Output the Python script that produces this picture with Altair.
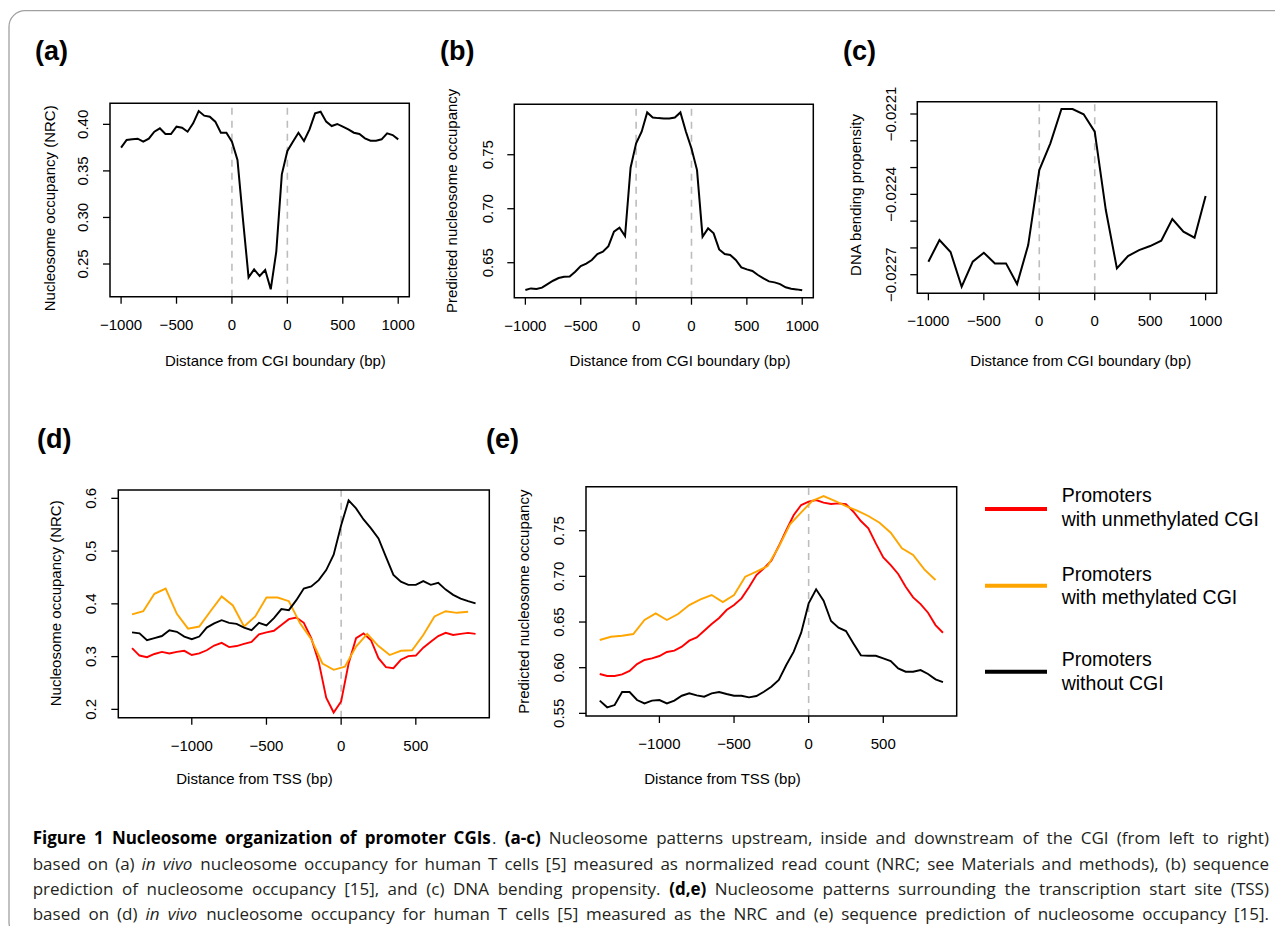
import altair as alt
import pandas as pd

W, H = 1267, 918
FONT = "Liberation Sans"
CAP_FONT = "Open Sans"

# ---------------- data ----------------
# Panels (a)-(c): plotting units: -1000..0 upstream, 0..500 CGI interior (scaled), 500..1500 downstream (0..1000 bp)
x_a = list(range(-1000, 1501, 50))
nrc_a = [0.3750, 0.3832, 0.3839, 0.3846, 0.3814, 0.3846, 0.3921, 0.3957, 0.3896, 0.3896,
         0.3975, 0.3964, 0.3921, 0.4011, 0.4143, 0.4093, 0.4082, 0.4029, 0.3910, 0.3910, 0.3814,
         0.3617, 0.2973, 0.2357, 0.2443, 0.2371, 0.2436, 0.2228, 0.2632, 0.3463, 0.3714,
         0.3814, 0.3910, 0.3821, 0.3946, 0.4118, 0.4136, 0.4029, 0.3982, 0.4004, 0.3975,
         0.3946, 0.3910, 0.3896, 0.3850, 0.3825, 0.3825, 0.3839, 0.3903, 0.3885, 0.3839]
x_b = list(range(-1000, 1501, 50))
pred_b = [0.6247, 0.6262, 0.6256, 0.6269, 0.6302, 0.6333, 0.6358, 0.6370, 0.6373, 0.6417,
          0.6469, 0.6491, 0.6525, 0.6580, 0.6602, 0.6654, 0.6787, 0.6824, 0.6747, 0.7380, 0.7605,
          0.7713, 0.7892, 0.7845, 0.7839, 0.7836, 0.7836, 0.7845, 0.7892, 0.7713, 0.7558,
          0.7358, 0.6741, 0.6818, 0.6772, 0.6623, 0.6580, 0.6571, 0.6525, 0.6457, 0.6438,
          0.6423, 0.6386, 0.6355, 0.6327, 0.6318, 0.6302, 0.6272, 0.6259, 0.6253, 0.6244]
x_c = list(range(-1000, 1501, 100))
bend_c = [-0.0226515, -0.0225706, -0.0226154, -0.0227449, -0.0226515, -0.0226179, -0.0226577,
          -0.0226577, -0.0227349, -0.0225892, -0.0223091,
          -0.0222095, -0.0220813, -0.0220813, -0.0221012, -0.0221660,
          -0.0224585, -0.0226764, -0.0226303, -0.0226079, -0.0225930, -0.0225731, -0.0224921,
          -0.0225394, -0.0225618, -0.0224062]
cgi_edges = [0, 500]
xticks_abc = [-1000, -500, 0, 500, 1000, 1500]
xlabels_abc = ["−1000", "−500", "0", "0", "500", "1000"]

# Panels (d),(e): distance from TSS (bp)
x_tss_50 = list(range(-1400, 901, 50))
x_tss_75 = list(range(-1400, 851, 75))
d_unmeth = [0.316, 0.302, 0.299, 0.305, 0.309, 0.306, 0.309, 0.311, 0.303, 0.306,
            0.312, 0.321, 0.326, 0.318, 0.320, 0.324, 0.328, 0.342, 0.346, 0.349,
            0.360, 0.371, 0.374, 0.364, 0.335, 0.290, 0.222, 0.194,
            0.215, 0.287, 0.335, 0.344, 0.331, 0.297, 0.280, 0.278, 0.294, 0.301,
            0.302, 0.317, 0.328, 0.339, 0.345, 0.341, 0.343, 0.345, 0.343]
d_meth = [0.380, 0.386, 0.419, 0.429, 0.381, 0.353, 0.357, 0.386, 0.414, 0.397,
          0.357, 0.376, 0.412, 0.412, 0.405, 0.363, 0.333, 0.287, 0.275, 0.281,
          0.319, 0.343, 0.320, 0.303, 0.311, 0.312, 0.341, 0.376, 0.386, 0.383, 0.385]
d_nocgi = [0.346, 0.344, 0.331, 0.335, 0.339, 0.350, 0.347, 0.338, 0.333, 0.338,
           0.355, 0.363, 0.369, 0.364, 0.362, 0.355, 0.350, 0.364, 0.359, 0.373,
           0.390, 0.388, 0.407, 0.429, 0.433, 0.445, 0.464, 0.493,
           0.549, 0.596, 0.581, 0.560, 0.543, 0.524, 0.489, 0.455, 0.442, 0.436,
           0.436, 0.443, 0.436, 0.440, 0.427, 0.417, 0.410, 0.405, 0.401]
e_unmeth = [0.5931, 0.5909, 0.5909, 0.5927, 0.5964, 0.6040, 0.6084, 0.6102, 0.6128, 0.6172,
            0.6186, 0.6230, 0.6296, 0.6332, 0.6405, 0.6478, 0.6544, 0.6631, 0.6686, 0.6759,
            0.6880, 0.7015, 0.7088, 0.7172, 0.7332, 0.7507, 0.7672, 0.7781,
            0.7818, 0.7836, 0.7807, 0.7792, 0.7799, 0.7792, 0.7708, 0.7606, 0.7526, 0.7361,
            0.7208, 0.7124, 0.7026, 0.6887, 0.6770, 0.6697, 0.6602, 0.6467, 0.6383]
e_meth = [0.6303, 0.6339, 0.6350, 0.6369, 0.6522, 0.6595, 0.6522, 0.6588, 0.6686, 0.6748,
          0.6796, 0.6719, 0.6796, 0.6996, 0.7051, 0.7113, 0.7325, 0.7569, 0.7701, 0.7828,
          0.7880, 0.7828, 0.7770, 0.7719, 0.7661, 0.7588, 0.7478, 0.7307, 0.7234, 0.7077, 0.6960]
e_nocgi = [0.5639, 0.5566, 0.5591, 0.5734, 0.5734, 0.5646, 0.5609, 0.5639, 0.5646, 0.5609,
           0.5639, 0.5693, 0.5719, 0.5697, 0.5682, 0.5719, 0.5734, 0.5712, 0.5693, 0.5693,
           0.5675, 0.5690, 0.5737, 0.5792, 0.5865, 0.6029, 0.6175, 0.6383,
           0.6704, 0.6858, 0.6734, 0.6511, 0.6438, 0.6401, 0.6266, 0.6135, 0.6131, 0.6131,
           0.6102, 0.6073, 0.5993, 0.5956, 0.5956, 0.5974, 0.5931, 0.5872, 0.5843]
tss_line = [0]
xticks_de = [-1000, -500, 0, 500]
xlabels_de = ["−1000", "−500", "0", "500"]

series_names = ["Promoters with unmethylated CGI", "Promoters with methylated CGI", "Promoters without CGI"]
series_colors = ["#ff0000", "#ffa500", "#000000"]
legend_lines = [["Promoters", "with unmethylated CGI"], ["Promoters", "with methylated CGI"],
                ["Promoters", "without CGI"]]

yticks_a = [0.25, 0.30, 0.35, 0.40]
ylabels_a = ["0.25", "0.30", "0.35", "0.40"]
yticks_b = [0.65, 0.70, 0.75]
ylabels_b = ["0.65", "0.70", "0.75"]
yticks_c = [-0.0227, -0.0226, -0.0225, -0.0224, -0.0223, -0.0222, -0.0221]
ylabels_c = ["−0.0227", "", "", "−0.0224", "", "", "−0.0221"]
yticks_d = [0.2, 0.3, 0.4, 0.5, 0.6]
ylabels_d = ["0.2", "0.3", "0.4", "0.5", "0.6"]
yticks_e = [0.55, 0.60, 0.65, 0.70, 0.75]
ylabels_e = ["0.55", "0.60", "0.65", "0.70", "0.75"]

xtitle_abc = "Distance from CGI boundary (bp)"
xtitle_de = "Distance from TSS (bp)"
panel_tags = ["(a)", "(b)", "(c)", "(d)", "(e)"]

caption_lines = [
    [("b", "Figure 1 Nucleosome organization of promoter CGIs"), ("r", ". "), ("b", "(a-c)"),
     ("r", " Nucleosome patterns upstream, inside and downstream of the CGI (from left to right)")],
    [("r", "based on (a) "), ("i", "in vivo"),
     ("r", " nucleosome occupancy for human T cells [5] measured as normalized read count (NRC; see Materials and methods), (b) sequence")],
    [("r", "prediction of nucleosome occupancy [15], and (c) DNA bending propensity. "), ("b", "(d,e)"),
     ("r", " Nucleosome patterns surrounding the transcription start site (TSS)")],
    [("r", "based on (d) "), ("i", "in vivo"),
     ("r", " nucleosome occupancy for human T cells [5] measured as the NRC and (e) sequence prediction of nucleosome occupancy [15].")],
]

# ---------------- helpers ----------------
color_scale = alt.Scale(domain=series_names, range=series_colors)
TICK = 7


def text_chart(txt, **mark):
    return alt.Chart(pd.DataFrame({"txt": [txt]})).mark_text(font=FONT, color="black", **mark)


def panel(df, xdom, ydom, frame, xticks, xlabels, yticks, ylabels, xtitle, xtitle_pos,
          ytitle, ytitle_pos, vlines, stroke_w, colored, xlab_gap=33, ylab_gap=21.7):
    left, right, top, bottom = frame
    xs = alt.Scale(domain=xdom, range=[left, right], nice=False, zero=False)
    ys = alt.Scale(domain=ydom, range=[bottom, top], nice=False, zero=False)
    layers = []
    vdf = pd.DataFrame({"vx": vlines, "y0": [ydom[0]] * len(vlines), "y1": [ydom[1]] * len(vlines)})
    layers.append(alt.Chart(vdf).mark_rule(color="#bdbdbd", strokeWidth=1.6, strokeDash=[7, 6]).encode(
        x=alt.X("vx:Q", scale=xs, axis=None),
        y=alt.Y("y0:Q", scale=ys, axis=None), y2="y1:Q"))
    if colored:
        layers.append(alt.Chart(df).mark_line(strokeWidth=stroke_w).encode(
            x=alt.X("x:Q", scale=xs, axis=None), y=alt.Y("v:Q", scale=ys, axis=None),
            color=alt.Color("series:N", scale=color_scale, legend=None),
            order=alt.Order("x:Q")))
    else:
        layers.append(alt.Chart(df).mark_line(strokeWidth=stroke_w, color="black").encode(
            x=alt.X("x:Q", scale=xs, axis=None), y=alt.Y("v:Q", scale=ys, axis=None)))
    bdf = pd.DataFrame({"x0": [xdom[0]], "x1": [xdom[1]], "y0": [ydom[0]], "y1": [ydom[1]]})
    layers.append(alt.Chart(bdf).mark_rect(fillOpacity=0, stroke="black", strokeWidth=1.5).encode(
        x=alt.X("x0:Q", scale=xs, axis=None), x2="x1:Q",
        y=alt.Y("y0:Q", scale=ys, axis=None), y2="y1:Q"))
    # x ticks + labels (positioned through the x scale)
    xt = pd.DataFrame({"t": xticks, "lab": xlabels})
    layers.append(alt.Chart(xt).mark_rule(color="black", strokeWidth=1.3).encode(
        x=alt.X("t:Q", scale=xs, axis=None), y=alt.value(bottom), y2=alt.value(bottom + TICK)))
    layers.append(alt.Chart(xt).mark_text(font=FONT, fontSize=15, color="black", align="center",
                                          baseline="alphabetic").encode(
        x=alt.X("t:Q", scale=xs, axis=None), y=alt.value(bottom + xlab_gap), text="lab:N"))
    # y ticks + labels (positioned through the y scale)
    yt = pd.DataFrame({"t": yticks, "lab": ylabels})
    layers.append(alt.Chart(yt).mark_rule(color="black", strokeWidth=1.3).encode(
        y=alt.Y("t:Q", scale=ys, axis=None), x=alt.value(left - TICK), x2=alt.value(left)))
    layers.append(alt.Chart(yt).mark_text(font=FONT, fontSize=15, color="black", align="center",
                                          baseline="alphabetic", angle=270).encode(
        y=alt.Y("t:Q", scale=ys, axis=None), x=alt.value(left - ylab_gap), text="lab:N"))
    # titles
    layers.append(text_chart(xtitle, fontSize=15, align="center", baseline="alphabetic").encode(
        x=alt.value(xtitle_pos[0]), y=alt.value(xtitle_pos[1]), text="txt:N"))
    layers.append(text_chart(ytitle, fontSize=15, align="center", baseline="alphabetic", angle=270).encode(
        x=alt.value(ytitle_pos[0]), y=alt.value(ytitle_pos[1]), text="txt:N"))
    return alt.layer(*layers)


# ---------------- panels ----------------
fa = (102, 401.3, 95.3, 288.7)
pa = panel(pd.DataFrame({"x": x_a, "v": nrc_a}), [-1100, 1600], [0.2149, 0.4226], fa,
           xticks_abc, xlabels_abc, yticks_a, ylabels_a,
           xtitle_abc, (267.4, 358), "Nucleosome occupancy (NRC)", (fa[0] - 55, 200.3),
           cgi_edges, 2, False)

fb = (506.3, 805.3, 96.3, 289.7)
pb = panel(pd.DataFrame({"x": x_b, "v": pred_b}), [-1100, 1600], [0.6176, 0.7967], fb,
           xticks_abc, xlabels_abc, yticks_b, ylabels_b,
           xtitle_abc, (672, 358), "Predicted nucleosome occupancy", (fb[0] - 57, 192.8),
           cgi_edges, 2, False)

fc = (909.3, 1208.7, 93.7, 285.3)
pc = panel(pd.DataFrame({"x": x_c, "v": bend_c}), [-1100, 1600], [-0.0227694, -0.0220541], fc,
           xticks_abc, xlabels_abc, yticks_c, ylabels_c,
           xtitle_abc, (1072.8, 358), "DNA bending propensity", (fc[0] - 56.3, 187),
           cgi_edges, 2, False)


def long_df(xs_list, vals_list):
    frames = []
    for name, xs, vals in zip(series_names, xs_list, vals_list):
        frames.append(pd.DataFrame({"x": xs, "v": vals, "series": name}))
    return pd.concat(frames, ignore_index=True)


df_d = long_df([x_tss_50, x_tss_75, x_tss_50], [d_unmeth, d_meth, d_nocgi])
df_e = long_df([x_tss_50, x_tss_75, x_tss_50], [e_unmeth, e_meth, e_nocgi])

fd = (110.3, 481.3, 482, 709.7)
pd_ = panel(df_d, [-1492, 992], [0.1842, 0.6158], fd,
            xticks_de, xlabels_de, yticks_d, ylabels_d,
            xtitle_de, (246.5, 776), "Nucleosome occupancy (NRC)", (fd[0] - 57.6, 595.3),
            tss_line, 1.9, True, ylab_gap=22)

fe = (578, 948.7, 478.7, 708)
pe = panel(df_e, [-1492, 992], [0.5471, 0.7982], fe,
           xticks_de, xlabels_de, yticks_e, ylabels_e,
           xtitle_de, (714.5, 776), "Predicted nucleosome occupancy", (fe[0] - 57, 593.7),
           tss_line, 1.9, True, ylab_gap=22)

# ---------------- legend ----------------
leg_y = [501, 577.7, 663.7]
leg_text_y = [[494, 518], [573, 596], [658, 682]]
leg_rule_df = pd.DataFrame({"series": series_names, "ly": leg_y})
leg_rules = alt.Chart(leg_rule_df).mark_rule(strokeWidth=4).encode(
    y=alt.Y("ly:Q", scale=None, axis=None), x=alt.value(977), x2=alt.value(1039),
    color=alt.Color("series:N", scale=color_scale, legend=None))
leg_rows = []
for lines, ys in zip(legend_lines, leg_text_y):
    for t, yy in zip(lines, ys):
        leg_rows.append({"txt": t, "px": 1053.7, "py": yy})
leg_text = alt.Chart(pd.DataFrame(leg_rows)).mark_text(
    align="left", baseline="alphabetic", font=FONT, fontSize=19.5, color="black").encode(
    x=alt.X("px:Q", scale=None, axis=None), y=alt.Y("py:Q", scale=None, axis=None), text="txt:N")

# ---------------- panel tags ----------------
tag_df = pd.DataFrame({"txt": panel_tags, "px": [27, 432, 835, 29, 478],
                       "py": [52, 52, 52, 439.5, 439.5]})
tags = alt.Chart(tag_df).mark_text(align="left", baseline="alphabetic", font=FONT, fontSize=27,
                                   fontWeight="bold", color="black").encode(
    x=alt.X("px:Q", scale=None, axis=None), y=alt.Y("py:Q", scale=None, axis=None), text="txt:N")

# ---------------- caption (word-justified, Open Sans metrics) ----------------
OSR = {' ': 260, '(': 296, ')': 296, '[': 324, ']': 324, ',': 245, '.': 266, ';': 266, ':': 266, '-': 322,
       'A': 633, 'B': 648, 'C': 631, 'D': 729, 'E': 556, 'F': 516, 'G': 728, 'H': 738, 'I': 279, 'J': 267,
       'K': 614, 'L': 519, 'M': 903, 'N': 763, 'O': 781, 'P': 603, 'Q': 781, 'R': 618, 'S': 549, 'T': 553,
       'U': 733, 'V': 584, 'W': 907, 'X': 576, 'Y': 556, 'Z': 566,
       'a': 556, 'b': 613, 'c': 476, 'd': 613, 'e': 561, 'f': 339, 'g': 548, 'h': 614, 'i': 253, 'j': 253,
       'k': 525, 'l': 253, 'm': 930, 'n': 614, 'o': 604, 'p': 613, 'q': 613, 'r': 408, 's': 477, 't': 353,
       'u': 614, 'v': 501, 'w': 778, 'x': 524, 'y': 502, 'z': 466}
OSB = dict(OSR)
OSB.update({'(': 335, ')': 335, ',': 273, '.': 285, 'C': 652, 'F': 577, 'G': 751, 'I': 343, 'N': 814,
            'S': 559, 'a': 599, 'b': 631, 'c': 518, 'd': 631, 'e': 597, 'f': 381, 'g': 561, 'h': 643,
            'i': 302, 'l': 302, 'm': 958, 'n': 643, 'o': 618, 'p': 631, 'r': 444, 's': 511, 't': 434,
            'u': 643, 'z': 495})


def tw(style, s, size):
    tbl = OSB if style == "b" else OSR
    k = 0.97 if style == "i" else 1.0
    return sum(tbl.get(ch, 572) for ch in s) * size / 1000.0 * k


def tokenize(line):
    toks = [[]]
    for style, text in line:
        parts = text.split(" ")
        for k, p in enumerate(parts):
            if k > 0:
                toks.append([])
            if p:
                toks[-1].append((style, p))
    return [t for t in toks if t]


cap_left, cap_right = 24.7, 1261
cap_base = [836, 862, 887, 912]
target = cap_right - cap_left
tok_lines = [tokenize(l) for l in caption_lines]
size = 17.0
for toks in tok_lines:
    nat = sum(tw(s, p, 1) for t in toks for s, p in t) + (len(toks) - 1) * 0.26
    size = min(size, target / nat)
cap_rows = []
for toks, yb in zip(tok_lines, cap_base):
    words_w = sum(tw(s, p, size) for t in toks for s, p in t)
    gap = (target - words_w) / (len(toks) - 1)
    xcur = cap_left
    for t in toks:
        for s, p in t:
            cap_rows.append({"txt": p, "px": xcur, "py": yb, "style": s})
            xcur += tw(s, p, size)
        xcur += gap
cap_df = pd.DataFrame(cap_rows)


def cap_layer(style, weight, fstyle, color):
    return alt.Chart(cap_df[cap_df["style"] == style]).mark_text(
        align="left", baseline="alphabetic", font=CAP_FONT, fontSize=size, fontWeight=weight,
        fontStyle=fstyle, color=color).encode(
        x=alt.X("px:Q", scale=None, axis=None), y=alt.Y("py:Q", scale=None, axis=None), text="txt:N")


caption = alt.layer(cap_layer("r", "normal", "normal", "#231f20"),
                    cap_layer("b", "bold", "normal", "#000000"),
                    cap_layer("i", "normal", "italic", "#231f20"))

# ---------------- border ----------------
border = alt.Chart(pd.DataFrame({"k": [0]})).mark_rect(
    cornerRadius=16, fillOpacity=0, stroke="#a0a0a0", strokeWidth=1.3).encode(
    x=alt.value(1), x2=alt.value(1300), y=alt.value(2.7), y2=alt.value(930))

chart = alt.layer(border, pa, pb, pc, pd_, pe, leg_rules, leg_text, tags, caption).properties(
    width=W, height=H, padding=0, autosize=alt.AutoSizeParams(type="none"), background="white"
).resolve_scale(x="independent", y="independent", color="independent").configure_view(stroke=None)

chart.save("out.html", embed_options={"renderer": "svg", "actions": False})
